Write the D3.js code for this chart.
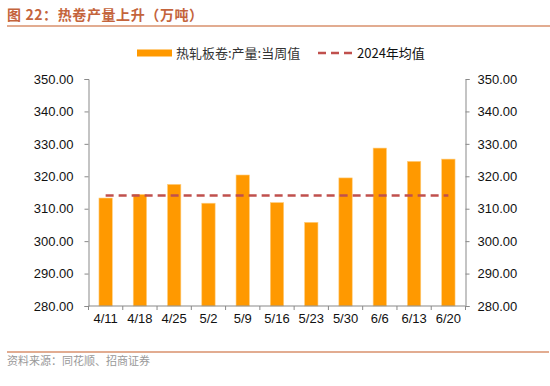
<!DOCTYPE html>
<html>
<head>
<meta charset="utf-8">
<script src="https://cdn.jsdelivr.net/npm/d3@7"></script>
<style>
  body { margin: 0; background: #fff; }
  text { font-family: "Liberation Sans", Arial, sans-serif; }
</style>
</head>
<body>
<svg id="chart" width="550" height="386"></svg>
<script>
// data
const weeks = ['4/11', '4/18', '4/25', '5/2', '5/9', '5/16', '5/23', '5/30', '6/6', '6/13', '6/20']
const output = [313.3, 314.4, 317.5, 311.7, 320.4, 311.9, 305.8, 319.5, 328.7, 324.6, 325.3]
const avg2024 = 314.1
const yTicks = [280, 290, 300, 310, 320, 330, 340, 350]

const cjk = '"Noto Sans CJK SC", "Liberation Sans", sans-serif'
const svg = d3.select('#chart')
const m = {left: 88.5, right: 465.5, top: 79, bottom: 306}

// + -- title and frame lines -------------------------------------------- +
svg.append('text')
  .attr('x', 7).attr('y', 20)
  .attr('fill', '#c4643c')
  .style('font-family', cjk)
  .style('font-size', '14px')
  .style('font-weight', 700)
  .style('letter-spacing', '0.6px')
  .text('图 22：热卷产量上升（万吨）')

svg.append('line')
  .attr('x1', 7).attr('x2', 550).attr('y1', 26).attr('y2', 26)
  .attr('stroke', '#d8906c').attr('stroke-width', 1.5)
svg.append('line')
  .attr('x1', 7).attr('x2', 549).attr('y1', 352).attr('y2', 352)
  .attr('stroke', '#d8906c').attr('stroke-width', 1.5)

svg.append('text')
  .attr('x', 7).attr('y', 365)
  .attr('fill', '#999')
  .style('font-family', cjk)
  .style('font-size', '11px')
  .text('资料来源：同花顺、招商证券')

// + -- scales ------------------------------------------------------------- +
const x = d3.scaleBand().domain(weeks).range([m.left, m.right]).paddingInner(0.61).paddingOuter(0.305)
const y = d3.scaleLinear().domain([280, 350]).range([m.bottom, m.top])

// bars
svg.append('g').selectAll('rect')
  .data(output)
  .enter().append('rect')
  .attr('x', (d, i) => x(weeks[i]))
  .attr('y', d => y(d))
  .attr('width', x.bandwidth())
  .attr('height', d => y(280) - y(d))
  .attr('fill', '#ff9900')
  .attr('stroke', '#ffcf80')
  .attr('stroke-width', 0.6)

// average line, centre of first bar to centre of last
const c0 = x(weeks[0]) + x.bandwidth() / 2
const c1 = x(weeks[weeks.length - 1]) + x.bandwidth() / 2
svg.append('line')
  .attr('x1', c0).attr('x2', c1)
  .attr('y1', y(avg2024)).attr('y2', y(avg2024))
  .attr('stroke', '#c0504d').attr('stroke-width', 2.5)
  .attr('stroke-dasharray', '8,5')

// + -- axes --------------------------------------------------------------- +
const axisColor = '#898989'
function styleAxis (g) {
  g.selectAll('path, line').attr('stroke', axisColor)
  g.selectAll('text').attr('fill', '#111').style('font-size', '13px')
    .style('font-family', '"Liberation Sans", Arial, sans-serif')
}

svg.append('g')
  .attr('transform', 'translate(' + m.left + ',0)')
  .call(d3.axisLeft(y).tickValues(yTicks).tickFormat(d3.format('.2f')).tickSize(4).tickSizeOuter(4).tickPadding(11))
  .call(styleAxis)

svg.append('g')
  .attr('transform', 'translate(' + m.right + ',0)')
  .call(d3.axisRight(y).tickValues(yTicks).tickFormat(d3.format('.2f')).tickSize(4).tickSizeOuter(4).tickPadding(8))
  .call(styleAxis)

// x axis: ticks at category boundaries
const xg = svg.append('g').attr('transform', 'translate(0,' + m.bottom + ')')
xg.append('line')
  .attr('x1', m.left).attr('x2', m.right)
  .attr('stroke', axisColor)
const step = x.step()
xg.selectAll('.tk')
  .data(d3.range(weeks.length + 1))
  .enter().append('line')
  .attr('x1', i => m.left + i * step).attr('x2', i => m.left + i * step)
  .attr('y1', 0).attr('y2', 4)
  .attr('stroke', axisColor)
xg.selectAll('text')
  .data(weeks)
  .enter().append('text')
  .attr('x', d => x(d) + x.bandwidth() / 2)
  .attr('y', 17)
  .attr('text-anchor', 'middle')
  .attr('fill', '#111')
  .style('font-size', '13px')
  .text(d => d)

// + -- legend ------------------------------------------------------------- +
const lg = svg.append('g').attr('transform', 'translate(0,53)')
lg.append('rect')
  .attr('x', 137).attr('y', -3.5).attr('width', 35).attr('height', 7)
  .attr('fill', '#ff9900')
lg.append('text')
  .attr('x', 176).attr('y', 5)
  .attr('fill', '#333')
  .style('font-family', cjk).style('font-size', '13px')
  .text('热轧板卷:产量:当周值')
lg.append('line')
  .attr('x1', 318).attr('x2', 355).attr('y1', 0).attr('y2', 0)
  .attr('stroke', '#c0504d').attr('stroke-width', 2.5)
  .attr('stroke-dasharray', '8,5')
lg.append('text')
  .attr('x', 357).attr('y', 5)
  .attr('fill', '#111')
  .style('font-family', cjk).style('font-size', '13px')
  .text('2024年均值')
</script>
</body>
</html>
